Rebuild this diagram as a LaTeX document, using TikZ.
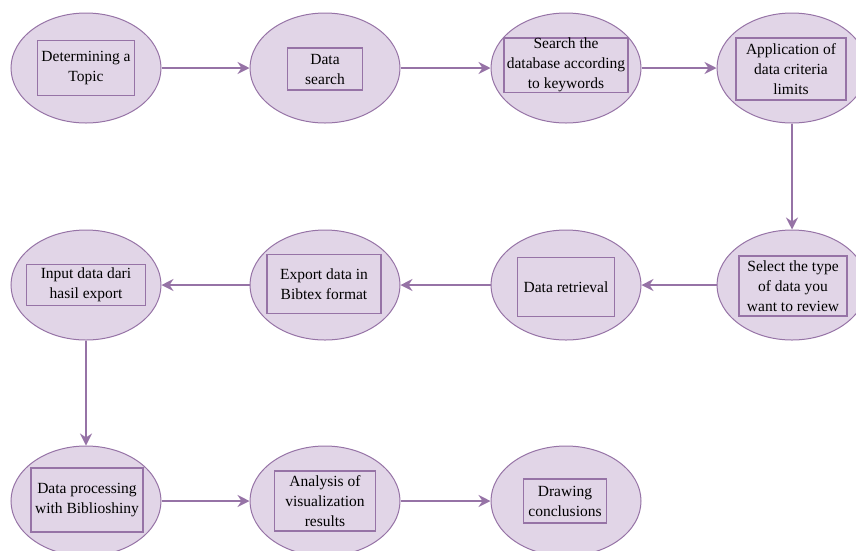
\documentclass[tikz,border=0pt]{standalone}
\usepackage{fontspec}
\setmainfont{Liberation Serif}
\usetikzlibrary{shapes.geometric,arrows.meta}

\definecolor{stepfill}{HTML}{E1D5E7}
\definecolor{stepline}{HTML}{9673A6}

\begin{document}
\begin{tikzpicture} [x=1pt,y=-1pt,
	stepell/.style={draw=stepline,fill=stepfill,ellipse,line width=1pt,minimum width=150pt,minimum height=110pt,inner sep=0pt},
	stepbox/.style={draw=stepline,line width=1.1pt,rectangle,inner sep=0pt,align=center,font=\fontsize{15.5pt}{20pt}\selectfont},
	flow/.style={draw=stepline,line width=1.5pt,-{Stealth[length=12pt,width=12pt,inset=4pt]}}]
\useasboundingbox (0,0) rectangle (856,550);
\clip (0,0) rectangle (856,550);

% first row
\node[stepell] (e1) at (86,68) {};
\node[stepell] (e2) at (325,68) {};
\node[stepell] (e3) at (566,68) {};
\node[stepell] (e4) at (792,68) {};
% second row
\node[stepell] (e5) at (792,285) {};
\node[stepell] (e6) at (566,285) {};
\node[stepell] (e7) at (325,285) {};
\node[stepell] (e8) at (86,285) {};
% third row
\node[stepell] (e9) at (86,501) {};
\node[stepell] (e10) at (325,501) {};
\node[stepell] (e11) at (566,501) {};

\node[stepbox,minimum width=97pt,minimum height=55pt] (t1) at (86,68) {Determining a\\Topic};
\node[stepbox,minimum width=75pt,minimum height=42pt] (t2) at (325,69) {Data\\search};
\node[stepbox,minimum width=124pt,minimum height=54pt] (t3) at (566,65) {Search the\\database according\\to keywords};
\node[stepbox,minimum width=110pt,minimum height=62pt] (t4) at (791,69) {Application of\\data criteria\\limits};
\node[stepbox,minimum width=108pt,minimum height=60pt] (t5) at (793,286) {Select the type\\of data you\\want to review};
\node[stepbox,minimum width=97pt,minimum height=59pt] (t6) at (566,287) {Data retrieval};
\node[stepbox,minimum width=114pt,minimum height=59pt] (t7) at (324,284) {Export data in\\Bibtex format};
\node[stepbox,minimum width=119pt,minimum height=41pt] (t8) at (86,285) {Input data dari\\hasil export};
\node[stepbox,minimum width=112pt,minimum height=64pt] (t9) at (87,500) {Data processing\\with Biblioshiny};
\node[stepbox,minimum width=101pt,minimum height=60pt] (t10) at (325,501) {Analysis of\\visualization\\results};
\node[stepbox,minimum width=83pt,minimum height=44pt] (t11) at (565,501) {Drawing\\conclusions};

\foreach \x/\y in {1/2,2/3,3/4,4/5,5/6,6/7,7/8,8/9,9/10,10/11}
	\draw[flow] (e\x) -- (e\y);

\end{tikzpicture}
\end{document}
